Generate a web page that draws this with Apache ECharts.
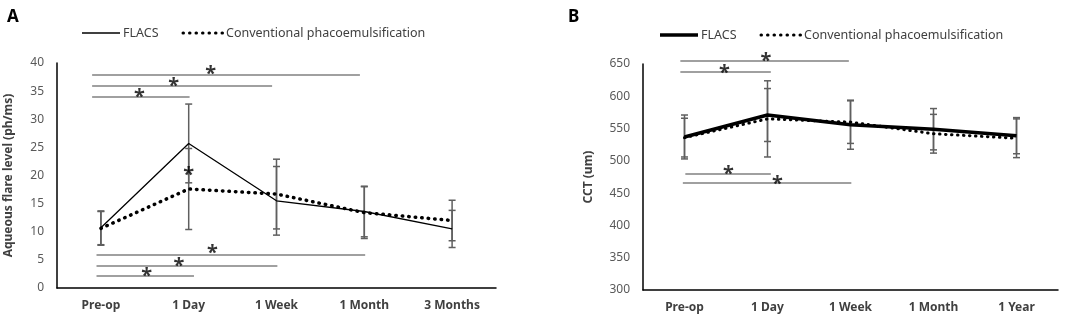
<!DOCTYPE html>
<html>
<head>
<meta charset="utf-8">
<script src="https://cdn.jsdelivr.net/npm/echarts@6/dist/echarts.min.js"></script>
<style>
  html, body { margin: 0; padding: 0; background: #fff; }
  #chart { width: 1084px; height: 322px; }
</style>
</head>
<body>
<div id="chart"></div>
<script>
// panel A - aqueous flare
var catsA = ['Pre-op', '1 Day', '1 Week', '1 Month', '3 Months'];
var flacsA = [10.7, 25.7, 15.5, 13.6, 10.5];
var flacsAErr = [3.0, 7.0, 6.1, 4.5, 3.3];
var convA = [10.6, 17.6, 16.7, 13.4, 12.0];
var convAErr = [3.0, 7.2, 6.2, 4.6, 3.6];
// significance bars: [from, to, y] in category units
var sigLinesA = [[-0.1, 2.95, 38], [-0.1, 1.95, 35.9], [-0.1, 1.01, 34],
                 [-0.05, 3.01, 6], [-0.05, 2.01, 3.9], [-0.05, 1.06, 2.1]];
var starsA = [[1.25, 38.8], [0.83, 36.7], [0.44, 34.8],
              [1.27, 7.0], [0.89, 4.7], [0.52, 2.9], [1.0, 21]];

// panel B - CCT
var catsB = ['Pre-op', '1 Day', '1 Week', '1 Month', '1 Year'];
var flacsB = [537, 571, 556, 549, 539];
var flacsBErr = [34, 41, 38, 32, 28];
var convB = [536, 565, 560, 542, 535];
var convBErr = [30, 59, 33, 30, 30];
var sigLinesB = [[-0.05, 1.98, 655], [-0.05, 1.04, 638.5],
                 [0.01, 1.04, 480], [-0.02, 2.01, 465.5]];
var starsB = [[0.98, 662], [0.48, 644], [0.53, 487], [1.12, 472]];

var FONT = 'Noto Sans';
var GREY = '#595959';

function errData(means, errs) {
  return means.map(function (v, i) { return [i, v - errs[i], v + errs[i]]; });
}

function errRender(params, api) {
  var x = api.value(0);
  var lo = api.coord([x, api.value(1)]);
  var hi = api.coord([x, api.value(2)]);
  var w = 3.5;
  var st = { stroke: '#5f5f5f', lineWidth: 1.5 };
  return {
    type: 'group',
    children: [
      { type: 'line', shape: { x1: lo[0], y1: lo[1], x2: hi[0], y2: hi[1] }, style: st },
      { type: 'line', shape: { x1: lo[0] - w, y1: lo[1], x2: lo[0] + w, y2: lo[1] }, style: st },
      { type: 'line', shape: { x1: hi[0] - w, y1: hi[1], x2: hi[0] + w, y2: hi[1] }, style: st }
    ]
  };
}

function sigSeries(lines, xi, yi) {
  return {
    type: 'lines',
    coordinateSystem: 'cartesian2d',
    xAxisIndex: xi, yAxisIndex: yi,
    clip: false,
    silent: true,
    lineStyle: { color: '#808080', width: 1.5, opacity: 1 },
    data: lines.map(function (l) { return { coords: [[l[0], l[2]], [l[1], l[2]]] }; })
  };
}

function starSeries(stars, xi, yi) {
  return {
    type: 'scatter',
    xAxisIndex: xi, yAxisIndex: yi,
    clip: false,
    silent: true,
    symbolSize: 1,
    itemStyle: { color: 'rgba(0,0,0,0)' },
    label: {
      show: true, position: 'inside', formatter: '*',
      color: '#000', fontSize: 20, fontWeight: 'bold', fontFamily: FONT, offset: [0, 5]
    },
    data: stars
  };
}

function catAxis(cats, gi) {
  return {
    type: 'category', gridIndex: gi, data: cats,
    axisLine: { onZero: false, lineStyle: { color: '#000', width: 1.5 } },
    axisTick: { show: false },
    axisLabel: { color: '#404040', fontWeight: 'bold', fontSize: 12, fontFamily: FONT, margin: 12 }
  };
}

function hiddenAxis(gi) {
  return { type: 'value', gridIndex: gi, min: -0.5, max: 4.5, show: false };
}

function valAxis(gi, min, max, step, name, gap) {
  return {
    type: 'value', gridIndex: gi, min: min, max: max, interval: step,
    name: name, nameLocation: 'middle', nameRotate: 90, nameGap: gap,
    nameTextStyle: { color: '#404040', fontWeight: 'bold', fontSize: 12, fontFamily: FONT },
    axisLine: { show: true, onZero: false, lineStyle: { color: '#000', width: 1.5 } },
    axisTick: { show: false },
    splitLine: { show: false },
    axisLabel: { color: GREY, fontSize: 12, fontFamily: FONT, margin: 13 }
  };
}

function legendGraphic(x, y, thick) {
  var w = thick ? 3.5 : 1.3;
  var font = '12.5px "' + FONT + '"';
  return [
    { type: 'line', shape: { x1: x, y1: y, x2: x + 38, y2: y }, style: { stroke: '#000', lineWidth: w } },
    { type: 'text', x: x + 41, y: y, style: { text: 'FLACS', fill: '#404040', font: font, verticalAlign: 'middle' } },
    { type: 'line', shape: { x1: x + 101, y1: y, x2: x + 142, y2: y },
      style: { stroke: '#000', lineWidth: 3, lineDash: [0.5, 6], lineCap: 'round' } },
    { type: 'text', x: x + 144, y: y, style: { text: 'Conventional phacoemulsification', fill: '#404040', font: font, verticalAlign: 'middle' } }
  ];
}

var chart = echarts.init(document.getElementById('chart'));
chart.setOption({
  animation: false,
  title: [
    { text: 'A', left: 2, top: 4, textStyle: { fontSize: 17, fontWeight: 'bold', fontFamily: FONT, color: '#000' } },
    { text: 'B', left: 563, top: 4, textStyle: { fontSize: 17, fontWeight: 'bold', fontFamily: FONT, color: '#000' } }
  ],
  graphic: legendGraphic(82, 33, false).concat(legendGraphic(660, 35, true)),
  grid: [
    { left: 57, right: 588, top: 63, bottom: 34 },
    { left: 643, right: 26, top: 64, bottom: 32 }
  ],
  xAxis: [catAxis(catsA, 0), hiddenAxis(0), catAxis(catsB, 1), hiddenAxis(1)],
  yAxis: [
    valAxis(0, 0, 40, 5, 'Aqueous flare level (ph/ms)', 42),
    valAxis(1, 300, 650, 50, 'CCT (um)', 48)
  ],
  series: [
    { type: 'custom', xAxisIndex: 0, yAxisIndex: 0, renderItem: errRender, data: errData(flacsA, flacsAErr), z: 1 },
    { type: 'custom', xAxisIndex: 0, yAxisIndex: 0, renderItem: errRender, data: errData(convA, convAErr), z: 1 },
    { name: 'Conventional phacoemulsification', type: 'line', xAxisIndex: 0, yAxisIndex: 0, data: convA,
      symbol: 'none', z: 2,
      lineStyle: { color: '#000', width: 3.5, type: [0.5, 6], cap: 'round' } },
    { name: 'FLACS', type: 'line', xAxisIndex: 0, yAxisIndex: 0, data: flacsA,
      symbol: 'none', z: 3, lineStyle: { color: '#000', width: 1.3 } },
    sigSeries(sigLinesA, 1, 0),
    starSeries(starsA, 1, 0),

    { type: 'custom', xAxisIndex: 2, yAxisIndex: 1, renderItem: errRender, data: errData(flacsB, flacsBErr), z: 1 },
    { type: 'custom', xAxisIndex: 2, yAxisIndex: 1, renderItem: errRender, data: errData(convB, convBErr), z: 1 },
    { name: 'Conventional phacoemulsification', type: 'line', xAxisIndex: 2, yAxisIndex: 1, data: convB,
      symbol: 'none', z: 2,
      lineStyle: { color: '#000', width: 3, type: [0.5, 5.5], cap: 'round' } },
    { name: 'FLACS', type: 'line', xAxisIndex: 2, yAxisIndex: 1, data: flacsB,
      symbol: 'none', z: 3, lineStyle: { color: '#000', width: 3.5 } },
    sigSeries(sigLinesB, 3, 1),
    starSeries(starsB, 3, 1)
  ]
});
</script>
</body>
</html>
